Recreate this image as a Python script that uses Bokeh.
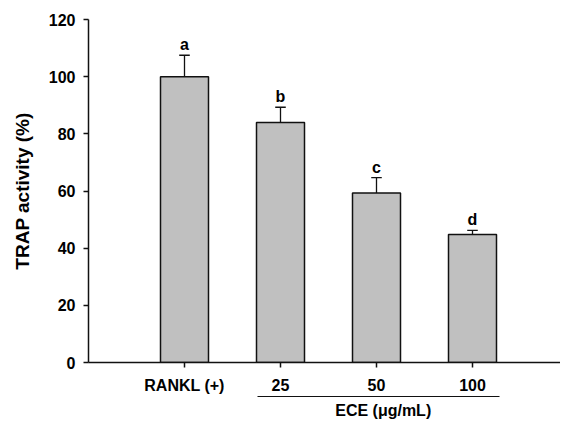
from bokeh.plotting import figure
from bokeh.models import LinearAxis, FixedTicker, Range1d, ColumnDataSource
from bokeh.core.properties import value
from bokeh.embed import file_html
from bokeh.resources import INLINE

categories = ["RANKL (+)", "25", "50", "100"]
trap_activity = [100.0, 84.0, 59.3, 44.8]
trap_error = [7.5, 5.3, 5.4, 1.4]
letters = ["a", "b", "c", "d"]
y_ticks = [0, 20, 40, 60, 80, 100, 120]
group_label = "ECE (μg/mL)"
y_label = "TRAP activity (%)"

FONT = "Liberation Sans"
INK = "#000000"
positions = [i + 1 for i in range(len(categories))]
tops = [v + e for v, e in zip(trap_activity, trap_error)]
cap = 0.055

src = ColumnDataSource(dict(
    x=positions, top=trap_activity, upper=tops, letter=letters,
    cx0=[x - cap for x in positions], cx1=[x + cap for x in positions],
))

p = figure(frame_width=472, frame_height=343, output_backend="svg",
           toolbar_location=None, x_axis_type=None,
           x_range=Range1d(0, 472 / 96), y_range=Range1d(0, 120),
           min_border_left=88, min_border_top=19, min_border_right=0,
           min_border_bottom=0)
p.outline_line_color = None
p.grid.visible = False
p.background_fill_color = "white"


def style_axis(ax):
    ax.major_label_text_font = FONT
    ax.major_label_text_font_style = "bold"
    ax.major_label_text_color = INK
    ax.axis_label_text_font = FONT
    ax.axis_label_text_font_style = "bold"
    ax.axis_label_text_color = INK
    ax.major_tick_in = 0
    ax.minor_tick_out = 0
    ax.minor_tick_in = 0
    ax.axis_line_color = "#111111"
    ax.major_tick_line_color = "#111111"
    ax.axis_line_width = 1.5
    ax.major_tick_line_width = 1.5


# y axis
ya = p.yaxis[0]
style_axis(ya)
ya.ticker = FixedTicker(ticks=y_ticks)
ya.axis_label = y_label
ya.axis_label_text_font_size = "19px"
ya.axis_label_standoff = 13
ya.major_label_text_font_size = "16px"
ya.major_label_standoff = 8
ya.major_tick_out = 5

# x axis with category labels
xa = LinearAxis(ticker=FixedTicker(ticks=positions),
                major_label_overrides={x: c for x, c in zip(positions, categories)})
style_axis(xa)
xa.major_label_text_font_size = "16px"
xa.major_label_standoff = 9
xa.major_tick_out = 5
p.add_layout(xa, "below")

# group axis: underline spanning the ECE doses, with its label as a single tick label
g_lo, g_hi = positions[1] - 0.24, positions[3] + 0.28
g_mid = (g_lo + g_hi) / 2 + 0.05
ga = LinearAxis(ticker=FixedTicker(ticks=[g_mid]), bounds=(g_lo, g_hi),
                major_label_overrides={g_mid: group_label})
style_axis(ga)
ga.major_label_text_font_size = "16px"
ga.major_label_standoff = 5
ga.major_tick_out = 0
ga.major_tick_line_color = None
ga.axis_line_width = 1.2
p.add_layout(ga, "below")

# bars
p.vbar(x="x", top="top", bottom=0, width=0.5, source=src,
       fill_color="#c0c0c0", line_color="#111111", line_width=1.5)
# error bars (upper only)
p.segment(x0="x", y0="top", x1="x", y1="upper", source=src,
          line_color="#111111", line_width=1.3)
p.segment(x0="cx0", y0="upper", x1="cx1", y1="upper", source=src,
          line_color="#111111", line_width=1.3)
# significance letters
p.text(x="x", y="upper", text="letter", source=src, text_align="center",
       text_baseline="bottom", y_offset=-2, text_font=value(FONT),
       text_font_style="bold", text_font_size="16px", text_color=INK)

open("out.html", "w").write(file_html(p, INLINE))
